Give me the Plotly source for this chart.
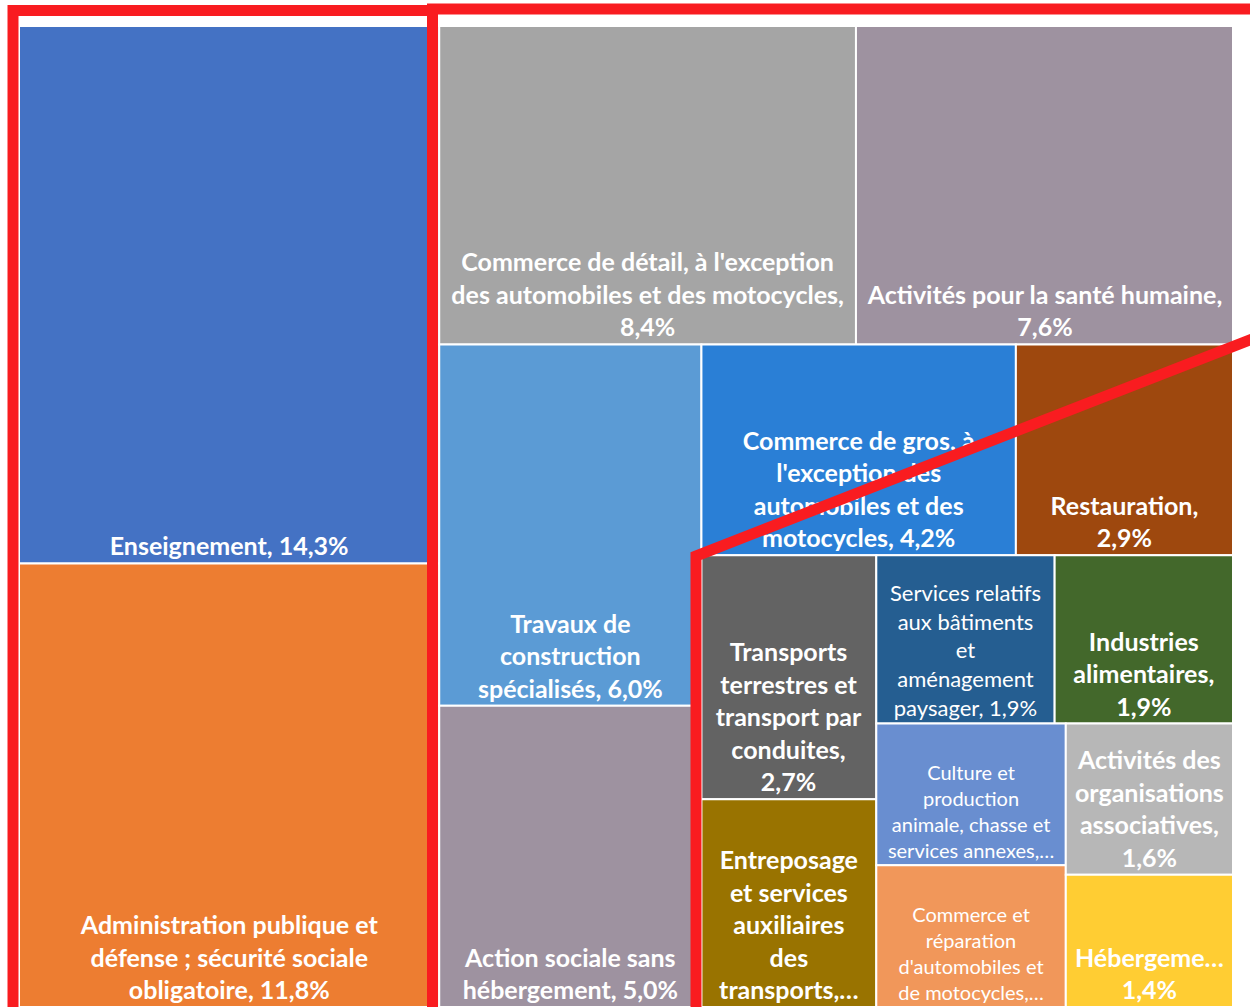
import plotly.graph_objects as go

# ---- data ----
categories = [
    "Enseignement",
    "Administration publique et défense ; sécurité sociale obligatoire",
    "Commerce de détail, à l'exception des automobiles et des motocycles",
    "Activités pour la santé humaine",
    "Travaux de construction spécialisés",
    "Action sociale sans hébergement",
    "Commerce de gros, à l'exception des automobiles et des motocycles",
    "Restauration",
    "Transports terrestres et transport par conduites",
    "Entreposage et services auxiliaires des transports",
    "Services relatifs aux bâtiments et aménagement paysager",
    "Industries alimentaires",
    "Culture et production animale, chasse et services annexes",
    "Commerce et réparation d'automobiles et de motocycles",
    "Activités des organisations associatives",
    "Hébergement",
]
shares = [14.3, 11.8, 8.4, 7.6, 6.0, 5.0, 4.2, 2.9, 2.7, 2.3, 1.9, 1.9, 1.7, 1.7, 1.6, 1.4]
display_labels = [
    "<b>Enseignement, 14,3%</b>",
    "<b>Administration publique et<br>défense ; sécurité sociale<br>obligatoire, 11,8%</b>",
    "<b>Commerce de détail, à l'exception<br>des automobiles et des motocycles,<br>8,4%</b>",
    "<b>Activités pour la santé humaine,<br>7,6%</b>",
    "<b>Travaux de<br>construction<br>spécialisés, 6,0%</b>",
    "<b>Action sociale sans<br>hébergement, 5,0%</b>",
    "<b>Commerce de gros, à<br>l'exception des<br>automobiles et des<br>motocycles, 4,2%</b>",
    "<b>Restauration,<br>2,9%</b>",
    "<b>Transports<br>terrestres et<br>transport par<br>conduites,<br>2,7%</b>",
    "<b>Entreposage<br>et services<br>auxiliaires<br>des<br>transports,…</b>",
    "Services relatifs<br>aux bâtiments<br>et<br>aménagement<br>paysager, 1,9%",
    "<b>Industries<br>alimentaires,<br>1,9%</b>",
    "Culture et<br>production<br>animale, chasse et<br>services annexes,…",
    "Commerce et<br>réparation<br>d'automobiles et<br>de motocycles,…",
    "<b>Activités des<br>organisations<br>associatives,<br>1,6%</b>",
    "<b>Hébergeme…<br>1,4%</b>",
]
colors = [
    "#4472C4", "#ED7D31", "#A5A5A5", "#9E92A0", "#5B9BD5", "#9E92A0",
    "#2A7FD6", "#9E480E", "#636363", "#997300", "#255E91", "#43682B",
    "#698ED0", "#F1975A", "#B7B7B7", "#FFCD33",
]
font_sizes = [25, 25, 25, 25, 25, 25, 25, 25, 25, 25, 22, 25, 20, 20, 25, 25]

# red hand-drawn highlight outlines (pixel positions on the page)
highlight_paths = [
    [(13, 1020), (13, 10.5), (432.5, 10.5), (432.5, 1020)],
    [(432.5, 1020), (432.5, 9), (1270, 9)],
    [(696, 1020), (696, 556), (1270, 332)],
]

W, H = 1250, 1007
ML, MR, MT, MB = 19, 17, 26, 0
PW, PH = W - ML - MR, H - MT - MB

fig = go.Figure(go.Treemap(
    labels=categories,
    parents=[""] * len(categories),
    values=shares,
    text=display_labels,
    texttemplate="%{text}",
    textinfo="text",
    textposition="bottom center",
    sort=True,
    tiling=dict(packing="squarify", squarifyratio=1, pad=0),
    pathbar=dict(visible=False),
    marker=dict(colors=colors, line=dict(color="white", width=2),
                pad=dict(t=0, l=0, r=0, b=0)),
    textfont=dict(family="Lato", size=font_sizes, color="white"),
    hoverinfo="label+value",
))


def to_paper(px, py):
    return (px - ML) / PW, (H - MB - py) / PH


shapes = []
for pts in highlight_paths:
    coords = [to_paper(x, y) for x, y in pts]
    path = "M " + " L ".join(f"{x:.5f},{y:.5f}" for x, y in coords)
    shapes.append(dict(type="path", xref="paper", yref="paper", path=path,
                       line=dict(color="#F91C20", width=11)))

fig.update_layout(
    width=W, height=H,
    margin=dict(l=ML, r=MR, t=MT, b=MB, pad=0),
    paper_bgcolor="white",
    plot_bgcolor="white",
    shapes=shapes,
    showlegend=False,
)

fig.write_html(
    "out.html",
    config={"displayModeBar": False},
    post_script="document.body.style.margin='0';document.body.style.overflow='hidden';",
)
